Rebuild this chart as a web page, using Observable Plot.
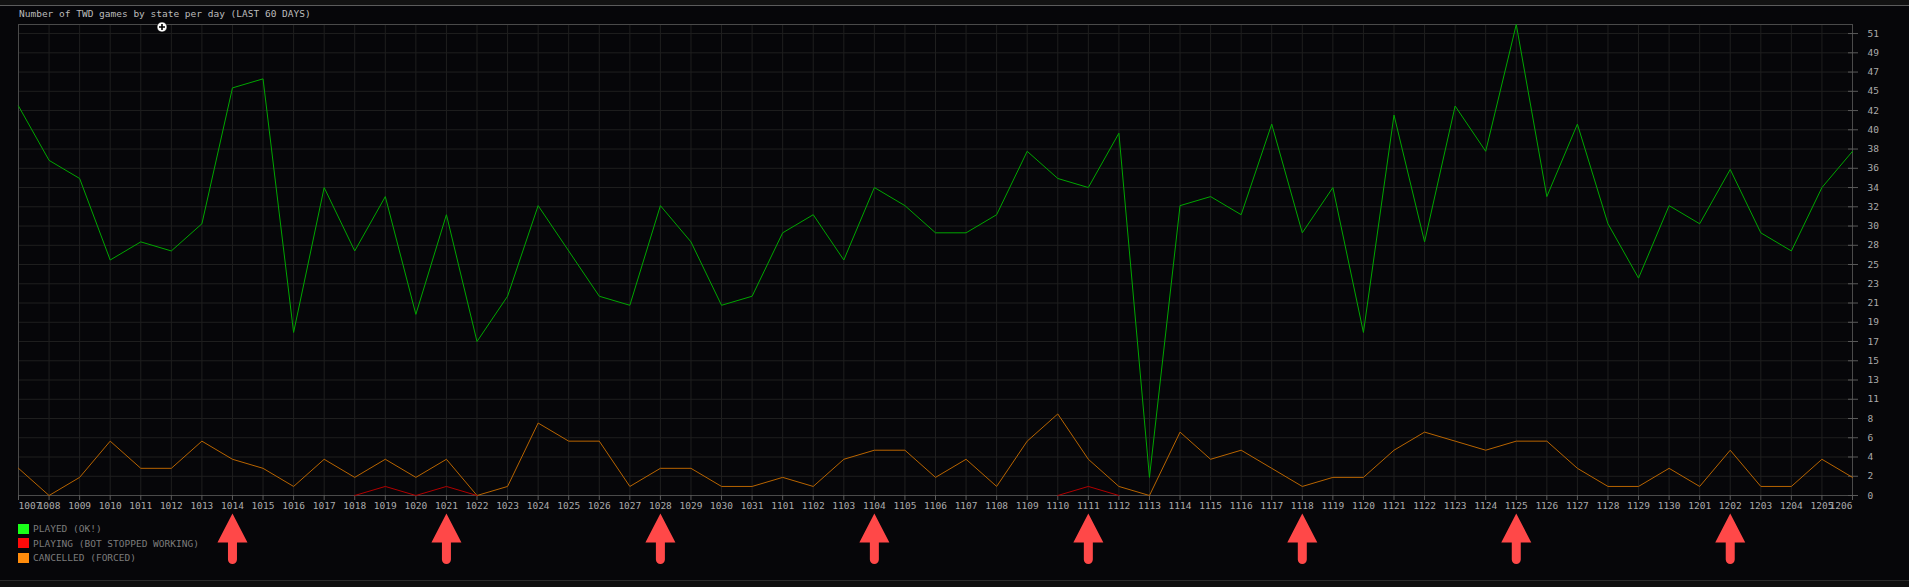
<!DOCTYPE html>
<html>
<head>
<meta charset="utf-8">
<script src="https://cdn.jsdelivr.net/npm/d3@7"></script>
<script src="https://cdn.jsdelivr.net/npm/@observablehq/plot@0.6"></script>
<style>
  html, body { margin: 0; padding: 0; width: 1909px; height: 587px; overflow: hidden; background: #060609; font-family: "DejaVu Sans Mono", monospace; }
  #topbar { position: absolute; left: 0; top: 0; width: 1909px; height: 5px; background: #121212; border-bottom: 1px solid #5c5c5c; }
  #title { position: absolute; left: 19px; top: 9px; font-size: 9.5px; line-height: 10px; color: #bcbcbc; white-space: pre; }
  #chart { position: absolute; left: 0; top: 0; }
  #legend { position: absolute; left: 18px; top: 523px; font-size: 9.5px; color: #7c7c7c; }
  .row { display: flex; align-items: center; height: 11px; margin-bottom: 3.5px; white-space: pre; }
  .sw { width: 11px; height: 10px; margin-right: 4px; }
  #bottombar { position: absolute; left: 0; top: 580px; width: 1909px; height: 7px; background: #101010; border-top: 1px solid #2c2c2c; }
  #cursor { position: absolute; left: 156px; top: 21px; }
  #chart svg g[aria-label="x-axis tick"] path, #chart svg g[aria-label="y-axis tick"] path { stroke: #5a5a5a; }
</style>
</head>
<body>
<div id="topbar"></div>
<div id="title">Number of TWD games by state per day (LAST 60 DAYS)</div>
<div id="chart"></div>
<div id="legend"></div>
<div id="bottombar"></div>
<svg id="cursor" width="12" height="12" viewBox="0 0 12 12"><circle cx="6" cy="6" r="5" fill="#fff" stroke="#000" stroke-width="0.6"/><path d="M6 3V9M3 6H9" stroke="#000" stroke-width="1.6"/></svg>
<script>
const dates = [
  "1007","1008","1009","1010","1011","1012","1013","1014","1015","1016","1017","1018","1019","1020","1021","1022","1023","1024","1025","1026","1027","1028","1029","1030","1031",
  "1101","1102","1103","1104","1105","1106","1107","1108","1109","1110","1111","1112","1113","1114","1115","1116","1117","1118","1119","1120","1121","1122","1123","1124","1125","1126","1127","1128","1129","1130",
  "1201","1202","1203","1204","1205","1206"
];
const played = [
  43,37,35,26,28,27,30,45,46,18,34,27,33,20,31,17,22,32,27,22,21,32,28,21,22,
  29,31,26,34,32,29,29,31,38,35,34,40,2,32,33,31,41,29,34,18,42,28,43,38,52,33,41,30,24,32,
  30,36,29,27,34,38
];
const playing = [
  null,null,null,null,null,null,null,null,null,null,null,0,1,0,1,0,null,null,null,null,null,null,null,null,null,
  null,null,null,null,null,null,null,null,null,0,1,0,null,null,null,null,null,null,null,null,null,null,null,null,null,null,null,null,null,null,
  null,null,null,null,null,null
];
const cancelled = [
  3,0,2,6,3,3,6,4,3,1,4,2,4,2,4,0,1,8,6,6,1,3,3,1,1,
  2,1,4,5,5,2,4,1,6,9,4,1,0,7,4,5,3,1,2,2,5,7,6,5,6,6,3,1,1,3,
  1,5,1,1,4,2
];
const yTickLabels = ["0","2","4","6","8","11","13","15","17","19","21","23","25","28","30","32","34","36","38","40","42","45","47","49","51"];
const arrowDates = ["1014","1021","1028","1104","1111","1118","1125","1202"];
const seriesNames = ["PLAYED (OK!)", "PLAYING (BOT STOPPED WORKING)", "CANCELLED (FORCED)"];
const swatchColors = ["#19ff19", "#ff0a0a", "#ff8c0c"];
const lineColors = ["#00a600", "#b00000", "#b86400"];

const yTop = +yTickLabels[yTickLabels.length - 1];
const yTicks = yTickLabels.map((_, i) => i * yTop / (yTickLabels.length - 1));
const tickLabel = new Map(yTicks.map((t, i) => [t, yTickLabels[i]]));

// filled arrow glyph (head + rounded shaft), drawn below the x axis
const arrowSymbol = {
  draw(context) {
    context.moveTo(0, 18);
    context.lineTo(15, 47);
    context.lineTo(4.5, 47);
    context.lineTo(4.5, 64);
    context.arc(0, 64, 4.5, 0, Math.PI);
    context.lineTo(-4.5, 47);
    context.lineTo(-15, 47);
    context.closePath();
  }
};

const labelOpts = { x: d => d, text: d => d, frameAnchor: "bottom", dy: 13, fill: "#ababab" };

const chart = Plot.plot({
  width: 1909,
  height: 580,
  marginLeft: 18,
  marginRight: 57,
  marginTop: 24,
  marginBottom: 85,
  style: { background: "transparent", color: "#a9a9a9", fontFamily: "DejaVu Sans Mono, monospace", fontSize: "9.5px" },
  x: { type: "point", domain: dates, padding: 0 },
  y: { domain: [0, d3.max(played)] },
  marks: [
    Plot.ruleY(yTicks, { stroke: "#1f1f1f" }),
    Plot.ruleX(dates, { stroke: "#1f1f1f" }),
    Plot.frame({ stroke: "#4a4a4a" }),
    Plot.axisX(dates, { anchor: "bottom", tickSize: 5, tickFormat: () => "" }),
    Plot.text(dates.slice(1, -1), { ...labelOpts, textAnchor: "middle" }),
    Plot.text(dates.slice(0, 1), { ...labelOpts, textAnchor: "start" }),
    Plot.text(dates.slice(-1), { ...labelOpts, textAnchor: "end" }),
    Plot.axisY(yTicks, { anchor: "right", tickSize: 10, tickPadding: 10, dx: -5, tickFormat: d => tickLabel.get(d), fill: "#ababab" }),
    Plot.line(dates, { x: d => d, y: (d, i) => cancelled[i], stroke: lineColors[2], strokeWidth: 1 }),
    Plot.line(dates, { x: d => d, y: (d, i) => playing[i] ?? NaN, stroke: lineColors[1], strokeWidth: 1 }),
    Plot.line(dates, { x: d => d, y: (d, i) => played[i], stroke: lineColors[0], strokeWidth: 1 }),
    Plot.dot(arrowDates, { x: d => d, frameAnchor: "bottom", symbol: arrowSymbol, fill: "#ff4848", stroke: "none" })
  ]
});
document.getElementById("chart").appendChild(chart);

const legend = document.getElementById("legend");
seriesNames.forEach((name, i) => {
  const row = document.createElement("div");
  row.className = "row";
  const sw = document.createElement("div");
  sw.className = "sw";
  sw.style.background = swatchColors[i];
  const label = document.createElement("span");
  label.textContent = name;
  row.appendChild(sw);
  row.appendChild(label);
  legend.appendChild(row);
});
</script>
</body>
</html>
